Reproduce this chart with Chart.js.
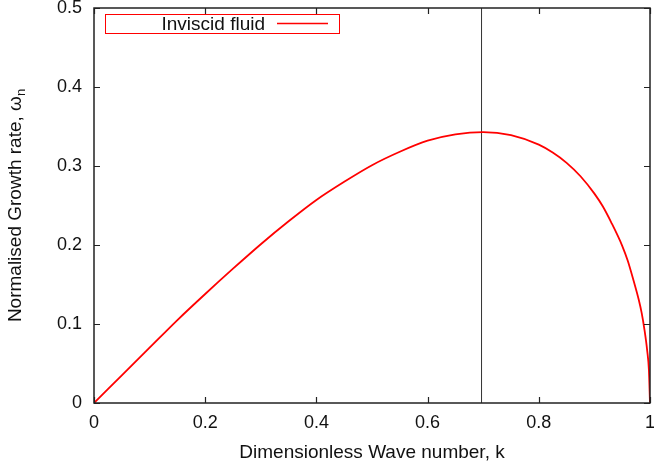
<!DOCTYPE html>
<html>
<head>
<meta charset="utf-8">
<script src="https://cdn.jsdelivr.net/npm/chart.js@4"></script>
<style>
  html, body { margin: 0; padding: 0; background: #fff; }
  #wrap { width: 654px; height: 467px; }
</style>
</head>
<body>
<div id="wrap"><canvas id="growth"></canvas></div>
<script>
// values
const waveNumber = [0, 0.05, 0.1, 0.15, 0.2, 0.25, 0.3, 0.35, 0.4, 0.45, 0.5, 0.55, 0.6, 0.65, 0.7, 0.75, 0.8, 0.825, 0.85, 0.875, 0.9, 0.915, 0.93, 0.95, 0.96, 0.97, 0.98, 0.985, 0.99, 0.995, 0.998, 1];
const growthRate = [0, 0.035, 0.070, 0.105, 0.138, 0.170, 0.201, 0.230, 0.257, 0.280, 0.301, 0.318, 0.332, 0.340, 0.343, 0.339, 0.327, 0.317, 0.304, 0.287, 0.265, 0.249, 0.229, 0.199, 0.180, 0.156, 0.130, 0.114, 0.093, 0.066, 0.042, 0];
const xTicks = [0, 0.2, 0.4, 0.6, 0.8, 1];
const yTicks = [0, 0.1, 0.2, 0.3, 0.4, 0.5];
const peakK = 0.697;
const seriesLabel = "Inviscid fluid";
const xTitle = "Dimensionless Wave number, k";
const yTitle = "Normalised Growth rate, \u03c9";
const yTitleSub = "n";

const FONT = "'Liberation Sans', Arial, Helvetica, sans-serif";
const ctxEl = document.getElementById("growth");

// gnuplot-ish frame, inward ticks, titles and the boxed key
const framePlugin = {
  id: "frame",
  afterDraw(chart) {
    const { ctx, chartArea: a, scales } = chart;
    const tick = 6;
    ctx.save();
    ctx.strokeStyle = "#222";
    ctx.lineWidth = 1.2;
    ctx.beginPath();
    xTicks.forEach((v) => {
      const px = Math.round(scales.x.getPixelForValue(v)) + 0.5;
      ctx.moveTo(px, a.bottom); ctx.lineTo(px, a.bottom - tick);
      ctx.moveTo(px, a.top); ctx.lineTo(px, a.top + tick);
    });
    yTicks.forEach((v) => {
      const py = Math.round(scales.y.getPixelForValue(v)) + 0.5;
      ctx.moveTo(a.left, py); ctx.lineTo(a.left + tick, py);
      ctx.moveTo(a.right, py); ctx.lineTo(a.right - tick, py);
    });
    ctx.stroke();
    ctx.lineWidth = 1.5;
    ctx.strokeRect(a.left, a.top, a.right - a.left, a.bottom - a.top);

    // key box
    ctx.strokeStyle = "#ff0000";
    ctx.lineWidth = 1;
    ctx.strokeRect(105.5, 14.5, 234, 19);
    ctx.fillStyle = "#111";
    ctx.font = "19px " + FONT;
    ctx.textAlign = "right";
    ctx.textBaseline = "alphabetic";
    ctx.fillText(seriesLabel, 265, 30);
    ctx.strokeStyle = "#ff0000";
    ctx.lineWidth = 1.5;
    ctx.beginPath();
    ctx.moveTo(277, 23.5); ctx.lineTo(328, 23.5);
    ctx.stroke();

    // x title
    ctx.textAlign = "center";
    ctx.fillText(xTitle, (a.left + a.right) / 2, 458);

    // y title with subscript
    ctx.translate(21, (a.top + a.bottom) / 2);
    ctx.rotate(-Math.PI / 2);
    ctx.font = "19px " + FONT;
    const w1 = ctx.measureText(yTitle).width;
    ctx.font = "13px " + FONT;
    const w2 = ctx.measureText(yTitleSub).width;
    const start = -(w1 + w2) / 2;
    ctx.textAlign = "left";
    ctx.font = "19px " + FONT;
    ctx.fillText(yTitle, start, 0);
    ctx.font = "13px " + FONT;
    ctx.fillText(yTitleSub, start + w1, 4);
    ctx.restore();
  },
};

new Chart(ctxEl, {
  type: "scatter",
  data: {
    datasets: [
      {
        label: seriesLabel,
        data: waveNumber.map((k, i) => ({ x: k, y: growthRate[i] })),
        showLine: true,
        borderColor: "#ff0000",
        borderWidth: 1.8,
        pointRadius: 0,
        cubicInterpolationMode: "monotone",
      },
      {
        label: "peak",
        data: [{ x: peakK, y: 0 }, { x: peakK, y: 0.5 }],
        showLine: true,
        borderColor: "#333",
        borderWidth: 1,
        pointRadius: 0,
      },
    ],
  },
  options: {
    responsive: true,
    maintainAspectRatio: false,
    animation: false,
    layout: { padding: { top: 8, right: 4, left: 0, bottom: 0 } },
    scales: {
      x: {
        type: "linear",
        min: 0,
        max: 1,
        afterBuildTicks: (s) => { s.ticks = xTicks.map((v) => ({ value: v })); },
        afterFit: (s) => { s.height = 64; s.paddingLeft = 0; s.paddingRight = 0; },
        ticks: {
          color: "#111",
          font: { family: FONT, size: 18 },
          padding: 9,
          maxRotation: 0,
          callback: (v) => String(v),
        },
        grid: { display: false, drawTicks: false },
        border: { display: false },
      },
      y: {
        min: 0,
        max: 0.5,
        afterBuildTicks: (s) => { s.ticks = yTicks.map((v) => ({ value: v })); },
        afterFit: (s) => { s.width = 94; s.paddingTop = 0; s.paddingBottom = 0; },
        ticks: {
          color: "#111",
          font: { family: FONT, size: 18 },
          padding: 12,
          callback: (v) => String(v),
        },
        grid: { display: false, drawTicks: false },
        border: { display: false },
      },
    },
    plugins: {
      legend: { display: false },
      tooltip: { enabled: false },
    },
  },
  plugins: [framePlugin],
});
</script>
</body>
</html>
